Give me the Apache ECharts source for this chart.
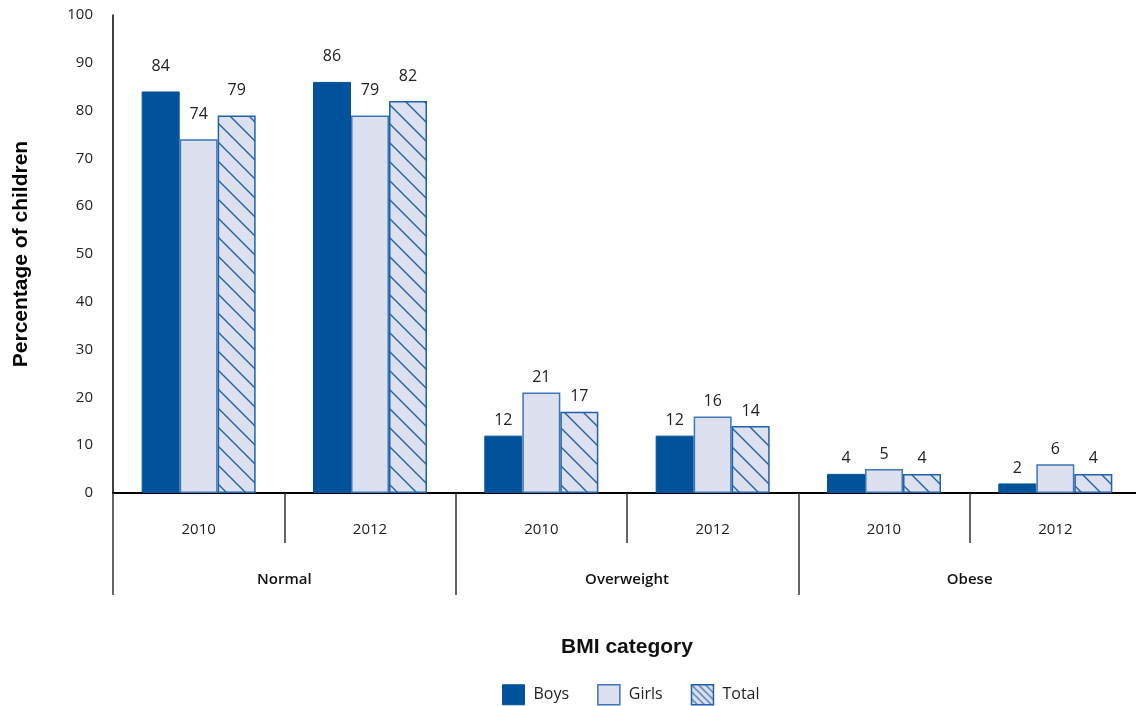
<!DOCTYPE html>
<html>
<head>
<meta charset="utf-8">
<script src="https://cdn.jsdelivr.net/npm/echarts@6/dist/echarts.min.js"></script>
<style>
  html, body { margin: 0; padding: 0; background: #fff; }
  #chart { width: 1136px; height: 706px; }
</style>
</head>
<body>
<div id="chart"></div>
<script>
// Share of children by BMI category, survey year and sex
const years = ['2010', '2012', '2010', '2012', '2010', '2012'];
const bmiGroups = ['Normal', 'Overweight', 'Obese'];
const boys  = [84, 86, 12, 12, 4, 2];
const girls = [74, 79, 21, 16, 5, 6];
const total = [79, 82, 17, 14, 4, 4];
const yTicks = [0, 10, 20, 30, 40, 50, 60, 70, 80, 90, 100];

const DARK = '#00539b';
const LIGHT = '#dde1ef';
const LINE = '#2062aa';
const FONT = '"Open Sans", "DejaVu Sans", sans-serif';
const TITLE_FONT = '"Liberation Sans", Arial, sans-serif';

// Diagonal hatch tile ("\" direction) on the light fill
function hatchTile(size, width) {
  const c = document.createElement('canvas');
  c.width = size; c.height = size;
  const g = c.getContext('2d');
  g.fillStyle = LIGHT;
  g.fillRect(0, 0, size, size);
  g.strokeStyle = LINE;
  g.lineWidth = width;
  g.beginPath();
  g.moveTo(-2, -2); g.lineTo(size + 2, size + 2);
  g.moveTo(-2, size - 2); g.lineTo(2, size + 2);
  g.moveTo(size - 2, -2); g.lineTo(size + 2, 2);
  g.stroke();
  return c;
}
const barHatch = { image: hatchTile(19, 1.4), repeat: 'repeat' };
const iconHatch = { image: hatchTile(7, 1.2), repeat: 'repeat' };

// Labels in the first (Normal) group sit a little higher above their bars
function withLabels(values) {
  return values.map((v, i) => ({
    value: v,
    label: { distance: i < 2 ? 17 : 7 }
  }));
}

const labelStyle = {
  show: true,
  position: 'top',
  fontFamily: FONT,
  fontSize: 16,
  color: '#222'
};

const chart = echarts.init(document.getElementById('chart'), null, { renderer: 'canvas' });
chart.setOption({
  animation: false,
  backgroundColor: '#fff',
  // the plot runs slightly past the right edge so its closing tick is not drawn
  grid: { left: 113, width: 1028, top: 15, bottom: 213, containLabel: false, outerBoundsMode: 'none' },
  legend: {
    top: 679,
    left: 497,
    itemWidth: 22,
    itemHeight: 20,
    itemGap: 28,
    textStyle: { fontFamily: FONT, fontSize: 16, color: '#222', padding: [0, 0, 0, 4] },
    data: [
      { name: 'Boys', icon: 'rect', itemStyle: { color: DARK, borderColor: DARK, borderWidth: 1 } },
      { name: 'Girls', icon: 'rect', itemStyle: { color: LIGHT, borderColor: '#3c75b8', borderWidth: 1.5 } },
      { name: 'Total', icon: 'rect', itemStyle: { color: iconHatch, borderColor: LINE, borderWidth: 1.5 } }
    ]
  },
  xAxis: [
    {
      type: 'category',
      data: years,
      position: 'bottom',
      axisLine: { show: true, lineStyle: { color: '#000', width: 2 } },
      axisTick: { show: true, length: 50, lineStyle: { color: '#333', width: 1.5 } },
      axisLabel: { margin: 29, fontFamily: FONT, fontSize: 15, color: '#222' }
    },
    {
      type: 'category',
      data: bmiGroups,
      position: 'bottom',
      axisLine: { show: false },
      axisTick: { show: true, length: 102, lineStyle: { color: '#333', width: 1.5 } },
      axisLabel: { margin: 79, fontFamily: FONT, fontSize: 15, fontWeight: 600, color: '#111' },
      name: 'BMI category',
      nameLocation: 'middle',
      nameGap: 144,
      nameTextStyle: { fontFamily: TITLE_FONT, fontSize: 21, fontWeight: 'bold', color: '#111' }
    }
  ],
  yAxis: {
    type: 'value',
    min: yTicks[0],
    max: yTicks[yTicks.length - 1],
    interval: yTicks[1] - yTicks[0],
    axisLine: { show: true, lineStyle: { color: '#000', width: 1.5 } },
    axisTick: { show: false },
    splitLine: { show: false },
    axisLabel: { margin: 20, fontFamily: FONT, fontSize: 15, color: '#222' },
    name: 'Percentage of children',
    nameLocation: 'middle',
    nameGap: 81,
    nameTextStyle: { fontFamily: TITLE_FONT, fontSize: 21, fontWeight: 'bold', color: '#000' }
  },
  series: [
    {
      name: 'Boys', type: 'bar', xAxisIndex: 0, barWidth: 38, barGap: '0%',
      itemStyle: { color: DARK, borderColor: DARK, borderWidth: 1 },
      label: labelStyle,
      data: withLabels(boys)
    },
    {
      name: 'Girls', type: 'bar', xAxisIndex: 0, barWidth: 38, barGap: '0%',
      itemStyle: { color: LIGHT, borderColor: '#3c75b8', borderWidth: 1.5 },
      label: labelStyle,
      data: withLabels(girls)
    },
    {
      name: 'Total', type: 'bar', xAxisIndex: 0, barWidth: 38, barGap: '0%',
      itemStyle: { color: barHatch, borderColor: LINE, borderWidth: 1.5 },
      label: labelStyle,
      data: withLabels(total)
    }
  ]
});
</script>
</body>
</html>
